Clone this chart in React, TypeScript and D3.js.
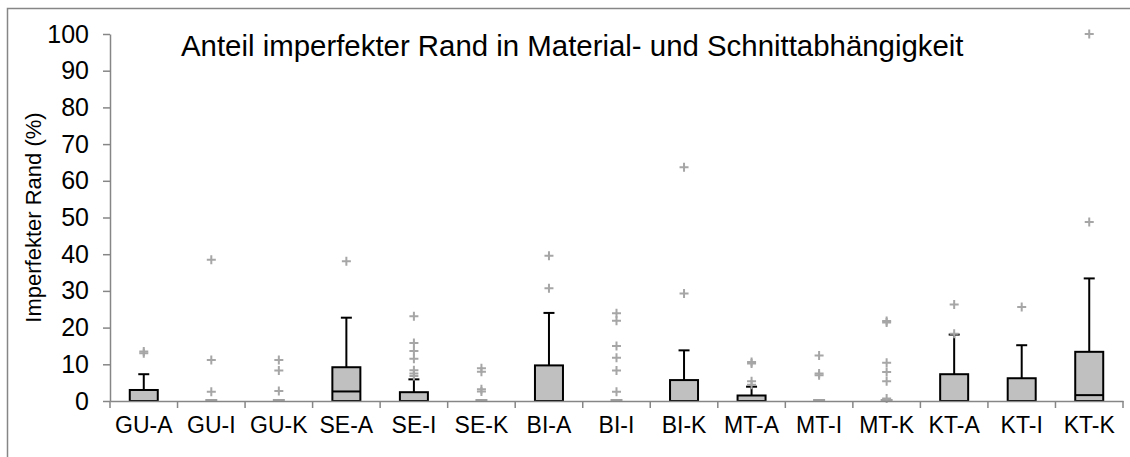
import { useEffect, useRef } from 'react';
import * as d3 from 'd3';

// Kategorien (Material-Schnitt)
const categories = ['GU-A', 'GU-I', 'GU-K', 'SE-A', 'SE-I', 'SE-K', 'BI-A', 'BI-I', 'BI-K', 'MT-A', 'MT-I', 'MT-K', 'KT-A', 'KT-I', 'KT-K'];

// Box-Werte (%) – unteres Quartil, Median, oberes Quartil, oberer Whisker
const q1Values = [0, 0, 0, 0, 0, 0, 0, 0, 0, 0, 0, 0, 0, 0, 0];
const medianValues = [0, 0, 0, 2.6, 0, 0, 0, 0, 0, 0, 0, 0, 0, 0, 1.6];
const q3Values = [3.0, 0, 0, 9.2, 2.4, 0, 9.7, 0, 5.7, 1.5, 0, 0, 7.3, 6.2, 13.4];
const whiskerValues = [7.3, 0, 0, 22.7, 5.9, 0, 24.0, 0, 13.8, 3.9, 0, 0, 18.1, 15.2, 33.4];

// Ausreißer je Kategorie
const outlierValues = [
  [13.0, 13.5],
  [38.5, 11.2, 2.5],
  [11.2, 8.3, 2.7],
  [38.1],
  [23.1, 15.8, 13.6, 11.5, 8.4, 7.5, 6.8],
  [8.9, 8.0, 3.2, 2.6],
  [39.6, 30.7],
  [23.9, 21.9, 15.0, 11.8, 8.3, 2.5],
  [63.7, 29.3],
  [10.6, 10.2, 5.4, 4.4],
  [12.4, 7.5, 7.0],
  [21.8, 21.4, 10.4, 7.9, 5.4, 0.7],
  [26.3, 18.3],
  [25.6],
  [100, 48.8],
];

const yTicks = [0, 10, 20, 30, 40, 50, 60, 70, 80, 90, 100];

const App = () => {
  const ref = useRef<SVGSVGElement | null>(null);

  useEffect(() => {
    const W = 1130;
    const H = 457;
    const left = 110;
    const right = 1123;
    const top = 34;
    const bottom = 401;
    const font = '"Liberation Sans", Arial, sans-serif';
    const axisColor = '#868686';

    const svg = d3.select(ref.current);
    svg.selectAll('*').remove();

    svg.append('rect').attr('width', W).attr('height', H).attr('fill', '#fff');
    // Rahmen
    svg.append('rect')
       .attr('x', 7.5).attr('y', 8.5)
       .attr('width', W + 20).attr('height', H + 20)
       .attr('fill', 'none')
       .attr('stroke', axisColor)
       .attr('stroke-width', 1.5);

    const x = d3.scaleBand<string>().domain(categories).range([left, right]).padding(0);
    const y = d3.scaleLinear().domain([0, 100]).range([bottom, top]);

    const boxW = 28;
    const capW = 11;
    const g = svg.append('g');

    categories.forEach((c, i) => {
      const cx = x(c)! + x.bandwidth() / 2;
      if (q3Values[i] > q1Values[i]) {
        // Whisker
        g.append('line')
         .attr('x1', cx).attr('x2', cx)
         .attr('y1', y(q3Values[i])).attr('y2', y(whiskerValues[i]))
         .attr('stroke', '#000').attr('stroke-width', 2);
        g.append('line')
         .attr('x1', cx - capW / 2).attr('x2', cx + capW / 2)
         .attr('y1', y(whiskerValues[i])).attr('y2', y(whiskerValues[i]))
         .attr('stroke', '#000').attr('stroke-width', 2);
        // Box
        g.append('rect')
         .attr('x', cx - boxW / 2)
         .attr('y', y(q3Values[i]))
         .attr('width', boxW)
         .attr('height', y(q1Values[i]) - y(q3Values[i]))
         .attr('fill', '#c0c0c0')
         .attr('stroke', '#000')
         .attr('stroke-width', 2);
        if (medianValues[i] > q1Values[i]) {
          g.append('line')
           .attr('x1', cx - boxW / 2).attr('x2', cx + boxW / 2)
           .attr('y1', y(medianValues[i])).attr('y2', y(medianValues[i]))
           .attr('stroke', '#000').attr('stroke-width', 2);
        }
      } else {
        // Box ohne Höhe
        g.append('line')
         .attr('x1', cx - 6).attr('x2', cx + 6)
         .attr('y1', y(medianValues[i]) - 1).attr('y2', y(medianValues[i]) - 1)
         .attr('stroke', '#a0a0a0').attr('stroke-width', 2);
      }
      // Ausreißer als "+"
      outlierValues[i].forEach(v => {
        const py = y(v);
        g.append('path')
         .attr('d', `M${cx - 4.5},${py}H${cx + 4.5}M${cx},${py - 4.5}V${py + 4.5}`)
         .attr('stroke', '#a6a6a6')
         .attr('stroke-width', 2)
         .attr('fill', 'none');
      });
    });

    // Y-Achse
    const yAxis = svg.append('g')
      .attr('transform', `translate(${left},0)`)
      .call(d3.axisLeft(y).tickValues(yTicks).tickSizeInner(7).tickSizeOuter(0).tickPadding(14));
    yAxis.select('.domain').attr('stroke', axisColor).attr('stroke-width', 1.5);
    yAxis.selectAll('.tick line').attr('stroke', axisColor).attr('stroke-width', 1.5);
    yAxis.selectAll('.tick text')
         .attr('font-family', font).attr('font-size', 25).attr('fill', '#000');

    // X-Achse
    const xAxis = svg.append('g')
      .attr('transform', `translate(0,${bottom})`)
      .call(d3.axisBottom(x).tickSize(0).tickPadding(16));
    xAxis.select('.domain').attr('stroke', axisColor).attr('stroke-width', 1.5);
    xAxis.selectAll('.tick text')
         .attr('font-family', font).attr('font-size', 23).attr('fill', '#000');
    const bounds = [...categories.map(c => x(c)!), right];
    xAxis.selectAll('.bound')
         .data(bounds)
         .join('line')
         .attr('x1', d => d).attr('x2', d => d)
         .attr('y1', 0).attr('y2', 7)
         .attr('stroke', axisColor).attr('stroke-width', 1.5);

    // Achsentitel
    svg.append('text')
       .attr('transform', `translate(41,${(top + bottom) / 2}) rotate(-90)`)
       .attr('text-anchor', 'middle')
       .attr('font-family', font).attr('font-size', 22)
       .text('Imperfekter Rand (%)');

    // Diagrammtitel
    svg.append('text')
       .attr('x', 181).attr('y', 56)
       .attr('font-family', font).attr('font-size', 29.4)
       .text('Anteil imperfekter Rand in Material- und Schnittabhängigkeit');
  }, []);

  return <svg ref={ref} width={1130} height={457} style={{ position: 'absolute', left: 0, top: 0 }} />;
};

export default App;
